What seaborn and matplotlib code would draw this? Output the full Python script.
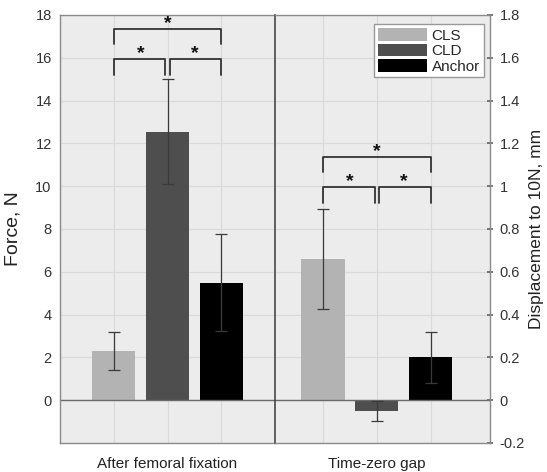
import numpy as np
import pandas as pd
import matplotlib
matplotlib.use("Agg")
import matplotlib.pyplot as plt
import seaborn as sns
from matplotlib.patches import Patch

# data
groups = ["CLS", "CLD", "Anchor"]
colors = ["#b3b3b3", "#4e4e4e", "#000000"]

force_mean = [2.3, 12.55, 5.5]
force_err = [0.9, 2.45, 2.25]

disp_mean = [0.66, -0.05, 0.20]
disp_err = [0.235, 0.045, 0.12]

left_label = "After femoral fixation"
right_label = "Time-zero gap"

sns.set_theme(style="white")
plt.rcParams['font.family'] = ['Liberation Sans', 'DejaVu Sans']

fig = plt.figure(figsize=(5.47, 4.72), dpi=100)
x0, x1 = 60 / 547, 490 / 547
xm = 275 / 547
yb, yt = 1 - 443 / 472, 1 - 15 / 472
axL = fig.add_axes([x0, yb, xm - x0, yt - yb])
axR = fig.add_axes([xm, yb, x1 - xm, yt - yb])

bg = "#ececec"
grid_c = "#d9d9d9"
spine_c = "#8a8a8a"
txt_c = "#333333"


def draw_panel(ax, means, errs, ylim, yticks, xlim, label):
    ax.set_facecolor(bg)
    df = pd.DataFrame({"group": groups, "val": means})
    for yv in yticks:
        ax.axhline(yv, color=grid_c, lw=0.8, zorder=0)
    for xv in range(3):
        ax.axvline(xv, color=grid_c, lw=0.8, zorder=0)
    sns.barplot(data=df, x="group", y="val", hue="group", palette=colors,
                legend=False, width=0.8, saturation=1, linewidth=0,
                ax=ax, zorder=2)
    ax.errorbar(range(3), means, yerr=errs, fmt="none", ecolor="#3a3a3a",
                elinewidth=0.9, capsize=4, capthick=0.9, zorder=3)
    ax.axhline(0, color="#6a6a6a", lw=1.0, zorder=2.5)
    ax.set_xlim(*xlim)
    ax.set_ylim(*ylim)
    ax.set_yticks(yticks)
    ax.set_xticks([1])
    ax.set_xticklabels([label], fontsize=11, color="#222222")
    ax.tick_params(axis="x", length=0, pad=10)
    ax.set_xlabel("")
    for s in ax.spines.values():
        s.set_color(spine_c)
        s.set_linewidth(1.0)


def bracket(ax, xa, xb, y, leg, lw=1.3):
    ax.plot([xa, xa, xb, xb], [y - leg, y, y, y - leg], color="#333333",
            lw=lw, zorder=4, clip_on=False)


# left panel: force
yt_L = np.arange(-2, 19, 2)
draw_panel(axL, force_mean, force_err, (-2, 18), yt_L, (-1, 3), left_label)
axL.set_yticklabels(["" if v == -2 else str(v) for v in yt_L], fontsize=10.5, color=txt_c)
axL.tick_params(axis="y", length=0, pad=6)
axL.set_ylabel("Force, N", fontsize=14, color="#222222", labelpad=10)
axL.spines["right"].set_visible(False)

bracket(axL, 0, 0.96, 15.95, 0.75)
bracket(axL, 1.04, 2, 15.95, 0.75)
bracket(axL, 0, 2, 17.35, 0.7)
for xs, ys in [(0.5, 16.2), (1.5, 16.2), (1.0, 17.6)]:
    axL.text(xs, ys, "*", ha="center", va="center", fontsize=14,
             fontweight="bold", color="#111111", zorder=5)

# right panel: displacement
yt_R = np.round(np.arange(-0.2, 1.81, 0.2), 1)
draw_panel(axR, disp_mean, disp_err, (-0.2, 1.8), yt_R, (-0.89, 3.1), right_label)
axR.yaxis.tick_right()
axR.yaxis.set_label_position("right")
axR.set_yticklabels(["0" if v == 0 else ("1" if v == 1 else f"{v:g}") for v in yt_R],
                    fontsize=10.5, color=txt_c)
axR.tick_params(axis="y", length=4, direction="inout", color="#666666", pad=5)
axR.set_ylabel("Displacement to 10N, mm", fontsize=12.5, color="#222222", labelpad=3)
axR.spines["left"].set_color("#3a3a3a")
axR.spines["left"].set_linewidth(1.1)

bracket(axR, 0, 0.96, 0.995, 0.075)
bracket(axR, 1.04, 2, 0.995, 0.075)
bracket(axR, 0, 2, 1.135, 0.07)
for xs, ys in [(0.5, 1.02), (1.5, 1.02), (1.0, 1.16)]:
    axR.text(xs, ys, "*", ha="center", va="center", fontsize=14,
             fontweight="bold", color="#111111", zorder=5)

handles = [Patch(facecolor=c, edgecolor="none", label=g) for g, c in zip(groups, colors)]
leg = axR.legend(handles=handles, loc="upper right", bbox_to_anchor=(0.985, 0.985),
                 fontsize=11, frameon=True, fancybox=False, handlelength=3.2,
                 handleheight=0.9, handletextpad=0.3, labelspacing=0.05,
                 borderpad=0.25, borderaxespad=0.2)
leg.get_frame().set_edgecolor("#999999")
leg.get_frame().set_facecolor("white")
leg.get_frame().set_alpha(1)

fig.savefig("out.png", dpi=100, facecolor="white")
